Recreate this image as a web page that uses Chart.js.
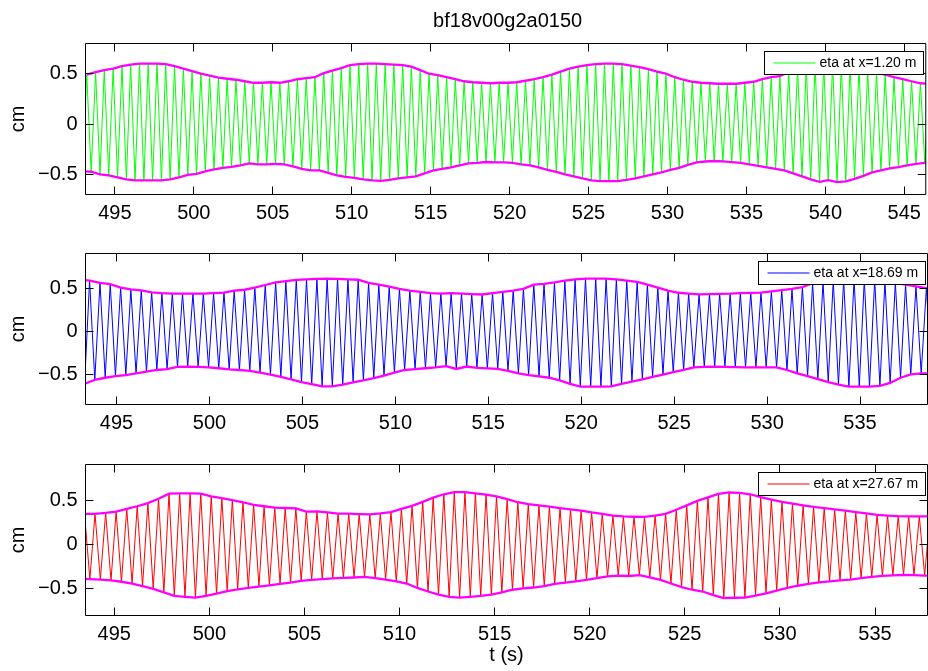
<!DOCTYPE html>
<html>
<head>
<meta charset="utf-8">
<script src="https://cdn.jsdelivr.net/npm/chart.js@4.4.1/dist/chart.umd.min.js"></script>
<style>
html,body{margin:0;padding:0;background:#fff;}
#wrap{position:relative;width:928px;height:671px;overflow:hidden;background:#fff;}
#wrap canvas{position:absolute;left:0;top:0;}
</style>
</head>
<body>
<div id="wrap">
<canvas id="c1" width="928" height="671"></canvas>
<canvas id="c2" width="928" height="671"></canvas>
<canvas id="c3" width="928" height="671"></canvas>
</div>
<script>
// ---------------- text ----------------
const figTitle = 'bf18v00g2a0150';
const xAxisLabel = 't (s)';
const yAxisLabel = 'cm';
const p1Label = 'eta at x=1.20 m';
const p2Label = 'eta at x=18.69 m';
const p3Label = 'eta at x=27.67 m';

// ---------------- axis limits & ticks ----------------
const p1XRange = [493.14, 546.36];
const p2XRange = [493.33, 538.63];
const p3XRange = [493.49, 537.76];
const p1YRange = [-0.7, 0.8];
const p2YRange = [-0.85, 0.9];
const p3YRange = [-0.8, 0.9];
const p1XTicks = [495, 500, 505, 510, 515, 520, 525, 530, 535, 540, 545];
const p2XTicks = [495, 500, 505, 510, 515, 520, 525, 530, 535];
const p3XTicks = [495, 500, 505, 510, 515, 520, 525, 530, 535];
const yTickValues = [-0.5, 0, 0.5];

// ---------------- panel 1 : crests / troughs (t in s, eta in cm) ----------------
const p1CrestT = [493.22,493.78,494.33,494.89,495.45,496.00,496.56,497.11,497.67,498.22,
498.78,499.34,499.89,500.45,501.00,501.56,502.11,502.67,503.23,503.78,
504.34,504.89,505.45,506.00,506.56,507.12,507.67,508.23,508.78,509.34,
509.89,510.45,511.01,511.56,512.12,512.67,513.23,513.78,514.34,514.90,
515.45,516.01,516.56,517.12,517.67,518.23,518.79,519.34,519.90,520.45,
521.01,521.56,522.12,522.68,523.23,523.79,524.34,524.90,525.45,526.01,
526.57,527.12,527.68,528.23,528.79,529.34,529.90,530.46,531.01,531.57,
532.12,532.68,533.23,533.79,534.35,534.90,535.46,536.01,536.57,537.12,
537.68,538.24,538.79,539.35,539.90,540.46,541.01,541.57,542.13,542.68,
543.24,543.79,544.35,544.90,545.46,546.02,546.57];
const p1CrestV = [0.49,0.515,0.535,0.55,0.575,0.59,0.60,0.60,0.60,0.595,
0.575,0.55,0.525,0.50,0.48,0.46,0.45,0.44,0.425,0.41,
0.41,0.415,0.41,0.425,0.445,0.455,0.465,0.505,0.53,0.555,
0.585,0.595,0.60,0.60,0.595,0.59,0.585,0.57,0.535,0.50,
0.485,0.465,0.445,0.425,0.415,0.41,0.405,0.41,0.41,0.415,
0.43,0.445,0.465,0.49,0.52,0.55,0.57,0.585,0.595,0.60,
0.60,0.595,0.58,0.565,0.545,0.52,0.50,0.465,0.44,0.42,
0.41,0.405,0.40,0.40,0.40,0.41,0.42,0.445,0.465,0.475,
0.52,0.56,0.58,0.59,0.60,0.60,0.59,0.58,0.56,0.535,
0.51,0.49,0.465,0.445,0.425,0.405,0.40];
const p1TroughT = [492.94,
493.50,494.06,494.61,495.17,495.73,496.28,496.84,497.39,497.95,498.50,
499.06,499.62,500.17,500.73,501.28,501.84,502.39,502.95,503.51,504.06,
504.62,505.17,505.73,506.28,506.84,507.40,507.95,508.51,509.06,509.62,
510.17,510.73,511.29,511.84,512.40,512.95,513.51,514.06,514.62,515.18,
515.73,516.29,516.84,517.40,517.95,518.51,519.07,519.62,520.18,520.73,
521.29,521.84,522.40,522.96,523.51,524.07,524.62,525.18,525.73,526.29,
526.85,527.40,527.96,528.51,529.07,529.62,530.18,530.74,531.29,531.85,
532.40,532.96,533.51,534.07,534.63,535.18,535.74,536.29,536.85,537.40,
537.96,538.52,539.07,539.63,540.18,540.74,541.29,541.85,542.41,542.96,
543.52,544.07,544.63,545.18,545.74,546.30,546.85];
const p1TroughV = [-0.47,
-0.474,-0.50,-0.51,-0.53,-0.55,-0.56,-0.56,-0.56,-0.56,-0.55,
-0.53,-0.505,-0.495,-0.47,-0.45,-0.435,-0.425,-0.41,-0.39,-0.40,
-0.40,-0.395,-0.40,-0.42,-0.445,-0.46,-0.46,-0.485,-0.51,-0.525,
-0.535,-0.55,-0.56,-0.565,-0.555,-0.54,-0.53,-0.52,-0.49,-0.46,
-0.445,-0.43,-0.41,-0.39,-0.385,-0.377,-0.38,-0.38,-0.385,-0.40,
-0.41,-0.43,-0.455,-0.475,-0.50,-0.52,-0.54,-0.56,-0.567,-0.567,
-0.567,-0.555,-0.54,-0.52,-0.50,-0.48,-0.455,-0.435,-0.405,-0.38,
-0.372,-0.367,-0.37,-0.378,-0.385,-0.40,-0.415,-0.43,-0.445,-0.46,
-0.49,-0.52,-0.55,-0.575,-0.557,-0.577,-0.57,-0.545,-0.515,-0.48,
-0.46,-0.44,-0.427,-0.41,-0.395,-0.385,-0.38];

// ---------------- panel 2 ----------------
const p2CrestT = [493.00,493.55,494.11,494.66,495.22,495.77,496.33,496.89,497.44,498.00,
498.55,499.11,499.67,500.22,500.78,501.33,501.89,502.44,503.00,503.56,
504.11,504.67,505.22,505.78,506.33,506.89,507.45,508.00,508.56,509.11,
509.67,510.22,510.78,511.34,511.89,512.45,513.00,513.56,514.11,514.67,
515.23,515.78,516.34,516.89,517.45,518.00,518.56,519.12,519.67,520.23,
520.78,521.34,521.89,522.45,523.01,523.56,524.12,524.67,525.23,525.78,
526.34,526.90,527.45,528.01,528.56,529.12,529.67,530.23,530.79,531.34,
531.90,532.45,533.01,533.56,534.12,534.68,535.23,535.79,536.34,536.90,
537.45,538.01,538.57,539.12];
const p2CrestV = [0.60,0.585,0.56,0.545,0.505,0.485,0.473,0.45,0.44,0.435,
0.435,0.435,0.435,0.44,0.446,0.47,0.48,0.505,0.535,0.565,
0.58,0.595,0.60,0.605,0.608,0.605,0.60,0.596,0.56,0.54,
0.515,0.49,0.47,0.455,0.44,0.435,0.44,0.435,0.43,0.425,
0.44,0.455,0.47,0.49,0.54,0.548,0.565,0.585,0.60,0.608,
0.608,0.608,0.60,0.585,0.57,0.54,0.505,0.47,0.445,0.435,
0.427,0.43,0.433,0.435,0.44,0.443,0.447,0.46,0.475,0.49,
0.51,0.555,0.57,0.585,0.595,0.60,0.60,0.595,0.58,0.56,
0.54,0.52,0.50,0.49];
const p2TroughT = [493.28,493.83,494.39,494.94,495.50,496.05,496.61,497.17,497.72,498.28,
498.83,499.39,499.95,500.50,501.06,501.61,502.17,502.72,503.28,503.84,
504.39,504.95,505.50,506.06,506.61,507.17,507.73,508.28,508.84,509.39,
509.95,510.50,511.06,511.62,512.17,512.73,513.28,513.84,514.39,514.95,
515.51,516.06,516.62,517.17,517.73,518.28,518.84,519.40,519.95,520.51,
521.06,521.62,522.17,522.73,523.29,523.84,524.40,524.95,525.51,526.06,
526.62,527.18,527.73,528.29,528.84,529.40,529.95,530.51,531.07,531.62,
532.18,532.73,533.29,533.84,534.40,534.96,535.51,536.07,536.62,537.18,
537.73,538.29,538.85,539.40];
const p2TroughV = [-0.61,-0.565,-0.54,-0.52,-0.51,-0.49,-0.47,-0.45,-0.44,-0.415,
-0.412,-0.415,-0.42,-0.43,-0.444,-0.45,-0.46,-0.48,-0.505,-0.53,
-0.56,-0.59,-0.615,-0.64,-0.64,-0.62,-0.595,-0.57,-0.545,-0.515,
-0.48,-0.45,-0.44,-0.43,-0.42,-0.405,-0.438,-0.41,-0.425,-0.432,
-0.437,-0.46,-0.49,-0.51,-0.525,-0.54,-0.57,-0.61,-0.642,-0.642,
-0.642,-0.64,-0.61,-0.585,-0.56,-0.53,-0.505,-0.475,-0.45,-0.42,
-0.413,-0.411,-0.413,-0.416,-0.419,-0.419,-0.419,-0.42,-0.45,-0.49,
-0.52,-0.555,-0.59,-0.62,-0.642,-0.642,-0.642,-0.635,-0.60,-0.54,
-0.50,-0.49,-0.488,-0.49];

// ---------------- panel 3 ----------------
const p3CrestT = [492.88,493.44,493.99,494.55,495.10,495.66,496.21,496.77,497.33,497.88,
498.44,498.99,499.55,500.10,500.66,501.21,501.77,502.33,502.88,503.44,
503.99,504.55,505.10,505.66,506.21,506.77,507.33,507.88,508.44,508.99,
509.55,510.10,510.66,511.22,511.77,512.33,512.88,513.44,513.99,514.55,
515.10,515.66,516.22,516.77,517.33,517.88,518.44,518.99,519.55,520.10,
520.66,521.22,521.77,522.33,522.88,523.44,523.99,524.55,525.10,525.66,
526.22,526.77,527.33,527.88,528.44,528.99,529.55,530.11,530.66,531.22,
531.77,532.33,532.88,533.44,533.99,534.55,535.11,535.66,536.22,536.77,
537.33,537.88];
const p3CrestV = [0.34,0.343,0.345,0.355,0.37,0.40,0.43,0.465,0.515,0.572,
0.575,0.575,0.572,0.54,0.522,0.50,0.475,0.445,0.43,0.415,
0.41,0.405,0.37,0.372,0.36,0.348,0.348,0.342,0.338,0.35,
0.365,0.40,0.435,0.48,0.527,0.565,0.588,0.59,0.575,0.56,
0.54,0.51,0.475,0.455,0.44,0.425,0.41,0.396,0.38,0.36,
0.345,0.325,0.315,0.312,0.31,0.325,0.345,0.39,0.44,0.49,
0.53,0.57,0.585,0.58,0.565,0.532,0.505,0.48,0.46,0.44,
0.423,0.41,0.395,0.38,0.365,0.35,0.332,0.325,0.318,0.317,
0.317,0.317];
const p3TroughT = [493.16,493.72,494.27,494.83,495.38,495.94,496.49,497.05,497.61,498.16,
498.72,499.27,499.83,500.38,500.94,501.49,502.05,502.61,503.16,503.72,
504.27,504.83,505.38,505.94,506.49,507.05,507.61,508.16,508.72,509.27,
509.83,510.38,510.94,511.50,512.05,512.61,513.16,513.72,514.27,514.83,
515.38,515.94,516.50,517.05,517.61,518.16,518.72,519.27,519.83,520.38,
520.94,521.50,522.05,522.61,523.16,523.72,524.27,524.83,525.38,525.94,
526.50,527.05,527.61,528.16,528.72,529.27,529.83,530.39,530.94,531.50,
532.05,532.61,533.16,533.72,534.27,534.83,535.39,535.94,536.50,537.05,
537.61,538.16];
const p3TroughV = [-0.385,-0.39,-0.395,-0.405,-0.42,-0.44,-0.47,-0.50,-0.54,-0.578,
-0.59,-0.598,-0.58,-0.555,-0.525,-0.505,-0.49,-0.475,-0.46,-0.445,
-0.43,-0.41,-0.40,-0.39,-0.383,-0.376,-0.372,-0.366,-0.38,-0.395,
-0.415,-0.44,-0.49,-0.53,-0.565,-0.59,-0.598,-0.59,-0.58,-0.565,
-0.54,-0.51,-0.495,-0.485,-0.47,-0.445,-0.43,-0.415,-0.40,-0.38,
-0.36,-0.35,-0.355,-0.345,-0.37,-0.40,-0.44,-0.48,-0.51,-0.53,
-0.57,-0.605,-0.60,-0.598,-0.575,-0.55,-0.52,-0.49,-0.465,-0.445,
-0.428,-0.415,-0.405,-0.395,-0.38,-0.365,-0.355,-0.348,-0.344,-0.345,
-0.35,-0.352];

// ---------------- styling ----------------
const FONT = '"Liberation Sans", Arial, Helvetica, sans-serif';
const ENV_COLOR = '#ff00ff';

function pts(ts, vs) { return ts.map((t, i) => ({x: t, y: vs[i]})); }
function zigzag(ct, cv, tt, tv) {
  return pts(ct, cv).concat(pts(tt, tv)).sort((a, b) => a.x - b.x);
}

const framePlugin = {
  id: 'matlabFrame',
  afterDatasetsDraw(chart) {
    const {ctx, chartArea: a, scales} = chart;
    const po = chart.options.plugins.matlabFrame || {};
    ctx.save();
    ctx.strokeStyle = '#000';
    ctx.lineWidth = 1;
    // axes box
    ctx.beginPath();
    ctx.rect(a.left, a.top, a.right - a.left, a.bottom - a.top);
    ctx.stroke();
    // inward tick marks on all four sides
    const L = 8;
    ctx.beginPath();
    scales.x.ticks.forEach(t => {
      const px = Math.round(scales.x.getPixelForValue(t.value) - 0.5) + 0.5;
      ctx.moveTo(px, a.bottom); ctx.lineTo(px, a.bottom - L);
      ctx.moveTo(px, a.top); ctx.lineTo(px, a.top + L);
    });
    scales.y.ticks.forEach(t => {
      const py = Math.round(scales.y.getPixelForValue(t.value) - 0.5) + 0.5;
      ctx.moveTo(a.left, py); ctx.lineTo(a.left + L, py);
      ctx.moveTo(a.right, py); ctx.lineTo(a.right - L, py);
    });
    ctx.stroke();
    // legend box (top right inside axes)
    const ds = chart.data.datasets.find(d => d.inLegend);
    if (ds) {
      ctx.font = '14px ' + FONT;
      const tw = ctx.measureText(ds.label).width;
      const h = 23, w = Math.round(55 + tw + 7);
      const x0 = Math.round(a.right - 2.5 - w) + 0.5;
      const y0 = Math.round(a.top + 7) + 0.5;
      ctx.fillStyle = '#fff';
      ctx.fillRect(x0, y0, w, h);
      ctx.strokeStyle = '#000';
      ctx.strokeRect(x0, y0, w, h);
      ctx.beginPath();
      ctx.strokeStyle = ds.borderColor;
      ctx.lineWidth = 1;
      ctx.moveTo(x0 + 9, y0 + h / 2);
      ctx.lineTo(x0 + 51, y0 + h / 2);
      ctx.stroke();
      ctx.fillStyle = '#000';
      ctx.textBaseline = 'middle';
      ctx.textAlign = 'left';
      ctx.fillText(ds.label, x0 + 55, y0 + h / 2 + 0.5);
    }
    // figure title
    if (po.title) {
      ctx.font = '20px ' + FONT;
      ctx.fillStyle = '#000';
      ctx.textAlign = 'center';
      ctx.textBaseline = 'alphabetic';
      ctx.fillText(po.title, (a.left + a.right) / 2 + 2, 26.5);
    }
    ctx.restore();
  }
};

function yFmt(v) {
  if (Math.abs(v) < 1e-9) return '0';
  return (v < 0 ? '\u2212' : '') + Math.abs(v).toFixed(1);
}

function makePanel(id, p) {
  const tickFont = {family: FONT, size: 20};
  return new Chart(document.getElementById(id), {
    type: 'line',
    data: {
      datasets: [
        {label: 'upper envelope', data: pts(p.ct, p.cv), borderColor: ENV_COLOR,
         borderWidth: 2.3, pointRadius: 0, clip: 0},
        {label: 'lower envelope', data: pts(p.tt, p.tv), borderColor: ENV_COLOR,
         borderWidth: 2.3, pointRadius: 0, clip: 0},
        {label: p.label, data: zigzag(p.ct, p.cv, p.tt, p.tv), borderColor: p.color,
         borderWidth: 1, pointRadius: 0, clip: 0, inLegend: true}
      ]
    },
    options: {
      responsive: false,
      animation: false,
      devicePixelRatio: 1,
      events: [],
      layout: {padding: {left: 0, right: 0.5, top: p.top, bottom: p.bottomPad}},
      plugins: {
        legend: {display: false},
        tooltip: {enabled: false},
        matlabFrame: {title: p.title || null}
      },
      scales: {
        x: {
          type: 'linear', min: p.xr[0], max: p.xr[1],
          grid: {display: false, drawTicks: false},
          border: {display: false},
          afterBuildTicks: s => { s.ticks = p.xt.map(v => ({value: v})); },
          afterFit: s => { s.height = p.xh; },
          ticks: {autoSkip: false, maxRotation: 0, minRotation: 0, padding: 7,
                  color: '#000', font: tickFont, callback: v => String(v)},
          title: {display: !!p.xTitle, text: p.xTitle || '', color: '#000',
                  font: tickFont, padding: {top: 0, bottom: 0}}
        },
        y: {
          type: 'linear', min: p.yr[0], max: p.yr[1],
          grid: {display: false, drawTicks: false},
          border: {display: false},
          afterBuildTicks: s => { s.ticks = yTickValues.map(v => ({value: v})); },
          afterFit: s => { s.width = 85.5; },
          ticks: {padding: 8, color: '#000', font: tickFont, callback: yFmt},
          title: {display: true, text: yAxisLabel, color: '#000', font: tickFont,
                  padding: {top: 6, bottom: 0}}
        }
      }
    },
    plugins: [framePlugin]
  });
}

makePanel('c1', {ct: p1CrestT, cv: p1CrestV, tt: p1TroughT, tv: p1TroughV,
  label: p1Label, color: '#00ff00', xr: p1XRange, yr: p1YRange, xt: p1XTicks,
  top: 43.5, xh: 30, bottomPad: 671 - 194.5 - 30, title: figTitle});
makePanel('c2', {ct: p2CrestT, cv: p2CrestV, tt: p2TroughT, tv: p2TroughV,
  label: p2Label, color: '#0000ff', xr: p2XRange, yr: p2YRange, xt: p2XTicks,
  top: 253.5, xh: 30, bottomPad: 671 - 404.5 - 30});
makePanel('c3', {ct: p3CrestT, cv: p3CrestV, tt: p3TroughT, tv: p3TroughV,
  label: p3Label, color: '#ff0000', xr: p3XRange, yr: p3YRange, xt: p3XTicks,
  top: 464.5, xh: 52, bottomPad: 671 - 615.5 - 52, xTitle: xAxisLabel});
</script>
</body>
</html>
